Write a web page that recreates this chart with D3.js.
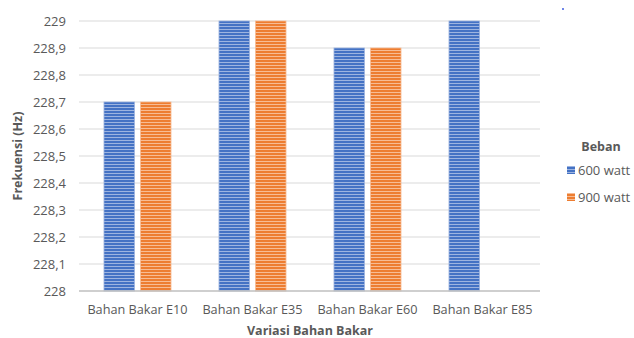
<!DOCTYPE html>
<html lang="id">
<head>
    <meta charset="UTF-8">
    <title>Frekuensi</title>
    <style>
        body { margin: 0; background: #fff; }
        text { font-family: "Open Sans", "DejaVu Sans", sans-serif; fill: #595959; }
    </style>
    <script src="https://d3js.org/d3.v7.min.js"></script>
</head>
<body>
<script>
// data
const categories = ["Bahan Bakar E10", "Bahan Bakar E35", "Bahan Bakar E60", "Bahan Bakar E85"];
const seriesNames = ["600 watt", "900 watt"];
const watt600 = [228.7, 229, 228.9, 229];
const watt900 = [228.7, 229, 228.9, null];
const yTicks = [228, 228.1, 228.2, 228.3, 228.4, 228.5, 228.6, 228.7, 228.8, 228.9, 229];

const colors = {"600 watt": ["#4472c4", "#9db4e0"], "900 watt": ["#ed7d31", "#f7bc94"]};

var svg = d3.select("body").append("svg")
    .attr("width", 634)
    .attr("height", 338);

// striped fills like the original
var defs = svg.append("defs");
seriesNames.forEach(function(s, i) {
    var p = defs.append("pattern")
        .attr("id", "stripe" + i)
        .attr("patternUnits", "userSpaceOnUse")
        .attr("width", 6).attr("height", 3);
    p.append("rect").attr("width", 6).attr("height", 3).attr("fill", colors[s][0]);
    p.append("rect").attr("y", 2).attr("width", 6).attr("height", 1).attr("fill", colors[s][1]);
});

// plot area (window.top is reserved, so not using "top")
const plotLeft = 80, plotRight = 540, plotTop = 21, plotBottom = 291;

var y = d3.scaleLinear().domain([228, 229]).range([plotBottom, plotTop]);
var x0 = d3.scaleBand().domain(categories).range([plotLeft, plotRight]);
var x1 = d3.scaleBand().domain(seriesNames).range([0, x0.bandwidth()])
    .paddingInner(0.164).paddingOuter(0.657);

// gridlines
svg.append("g").selectAll("line")
    .data(yTicks.slice(1))
    .enter().append("line")
    .attr("x1", plotLeft - 1).attr("x2", plotRight)
    .attr("y1", d => y(d)).attr("y2", d => y(d))
    .attr("stroke", "#d9d9d9").attr("stroke-width", 1);

// y tick labels
svg.append("g").selectAll("text")
    .data(yTicks)
    .enter().append("text")
    .attr("x", 66)
    .attr("y", d => y(d) + 4.5)
    .attr("text-anchor", "end")
    .style("font-size", "13px")
    .text(d => d3.format(".1f")(d).replace(".0", "").replace(".", ","));

// bars
var rows = categories.map((c, i) => ({cat: c, vals: [watt600[i], watt900[i]]}));
var groups = svg.append("g").selectAll("g")
    .data(rows)
    .enter().append("g")
    .attr("transform", d => "translate(" + x0(d.cat) + ",0)");

groups.selectAll("rect")
    .data(d => d.vals.map((v, i) => ({name: seriesNames[i], idx: i, value: v})).filter(d => d.value != null))
    .enter().append("rect")
    .attr("x", d => x1(d.name))
    .attr("y", d => y(d.value))
    .attr("width", x1.bandwidth())
    .attr("height", d => plotBottom - y(d.value))
    .attr("fill", d => "url(#stripe" + d.idx + ")")
    .attr("stroke", d => colors[d.name][1])
    .attr("stroke-width", 0.8);

// x axis line
svg.append("line")
    .attr("x1", plotLeft - 1).attr("x2", plotRight)
    .attr("y1", plotBottom).attr("y2", plotBottom)
    .attr("stroke", "#bfbfbf").attr("stroke-width", 1.5);

// category labels
svg.append("g").selectAll("text")
    .data(categories)
    .enter().append("text")
    .attr("x", d => x0(d) + x0.bandwidth() / 2)
    .attr("y", 314)
    .attr("text-anchor", "middle")
    .style("font-size", "12.7px")
    .text(d => d);

// axis titles
svg.append("text")
    .attr("x", (plotLeft + plotRight) / 2)
    .attr("y", 335)
    .attr("text-anchor", "middle")
    .style("font-size", "12.5px")
    .style("font-weight", "bold")
    .text("Variasi Bahan Bakar");

svg.append("text")
    .attr("transform", "translate(22," + ((plotTop + plotBottom) / 2) + ") rotate(-90)")
    .attr("text-anchor", "middle")
    .style("font-size", "12.5px")
    .style("font-weight", "bold")
    .text("Frekuensi (Hz)");

// legend
var legend = svg.append("g").attr("transform", "translate(567,0)");
legend.append("text")
    .attr("x", 34).attr("y", 151)
    .attr("text-anchor", "middle")
    .style("font-size", "12.5px")
    .style("font-weight", "bold")
    .text("Beban");
var items = legend.selectAll(".item")
    .data(seriesNames)
    .enter().append("g")
    .attr("class", "item")
    .attr("transform", (d, i) => "translate(0," + (170 + i * 27) + ")");
items.append("rect")
    .attr("x", 0).attr("y", -4)
    .attr("width", 8).attr("height", 8)
    .attr("fill", (d, i) => "url(#stripe" + i + ")");
items.append("text")
    .attr("x", 11).attr("y", 4.5)
    .style("font-size", "13px")
    .text(d => d);

// stray dot in the top right of the original
svg.append("rect")
    .attr("x", 562).attr("y", 8)
    .attr("width", 2).attr("height", 2)
    .attr("fill", "#6f86e8");
</script>
</body>
</html>
